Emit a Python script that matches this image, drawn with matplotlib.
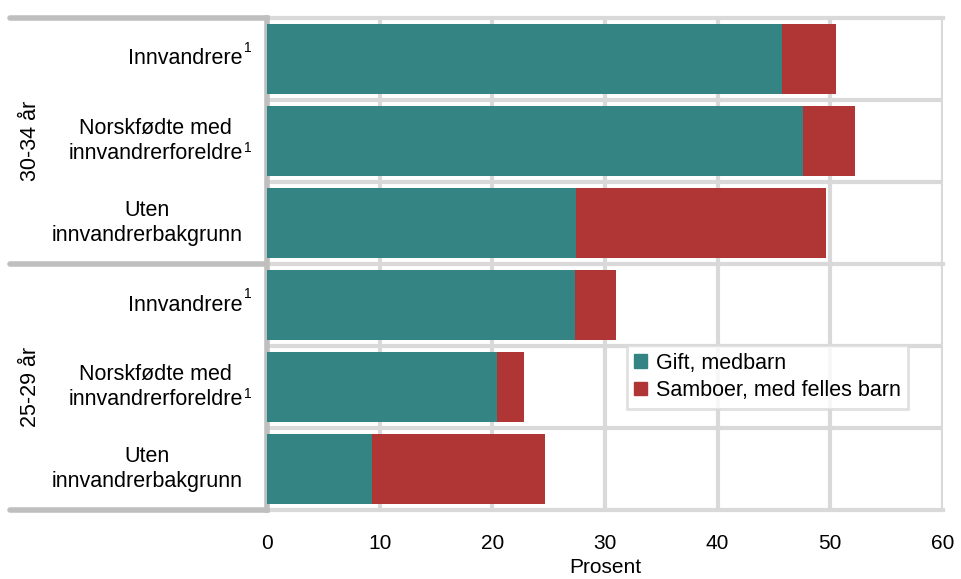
import matplotlib.pyplot as plt
from matplotlib.patches import Rectangle

plt.rcParams['font.family'] = ['Liberation Sans', 'DejaVu Sans']

labels = ['Innvandrere', 'Norskfødte med\ninnvandrerforeldre', 'Uten\ninnvandrerbakgrunn',
          'Innvandrere', 'Norskfødte med\ninnvandrerforeldre', 'Uten\ninnvandrerbakgrunn']
footnote = ['1', '1', '', '1', '1', '']
groups = ['30-34 år', '25-29 år']
gift = [45.7, 47.6, 27.4, 27.3, 20.4, 9.3]
samboer = [4.8, 4.6, 22.2, 3.7, 2.4, 15.4]
series = ['Gift, medbarn', 'Samboer, med felles barn']

teal = '#358484'
red = '#b03535'
grid_c = '#d9d9d9'
dark_c = '#bfbfbf'

fig = plt.figure(figsize=(9.62, 5.79), dpi=100)
ax = fig.add_axes([0.2775, 0.119, 0.7027, 0.85])

y = list(range(len(labels)))
ax.barh(y, gift, height=0.86, color=teal, zorder=3)
ax.barh(y, samboer, left=gift, height=0.86, color=red, zorder=3)

ax.set_xlim(0, 60)
ax.set_ylim(5.5, -0.5)
ax.set_xticks(range(0, 61, 10))
for xv in range(10, 61, 10):
    ax.axvline(xv, color=grid_c, lw=3, zorder=1)
for yv in [0.5, 1.5, 3.5, 4.5]:
    ax.axhline(yv, color=grid_c, lw=3, zorder=1)

# group separators extending into the label area
for yv in [-0.5, 2.5, 5.5]:
    ax.plot([-0.38, 0], [yv, yv], transform=ax.get_yaxis_transform(),
            color=dark_c, lw=4, clip_on=False, solid_capstyle='round', zorder=4)
    ax.plot([0, 1], [yv, yv], transform=ax.get_yaxis_transform(),
            color=grid_c, lw=3, clip_on=False, zorder=1)

for s in ['top', 'right', 'bottom']:
    ax.spines[s].set_visible(False)
ax.spines['left'].set_color(dark_c)
ax.spines['left'].set_linewidth(4)

ax.set_yticks([])
ax.tick_params(axis='x', length=0, labelsize=15, pad=17)
ax.set_xlabel('Prosent', fontsize=15, labelpad=4)

trans = ax.get_yaxis_transform()
for i, lab in enumerate(labels):
    ax.text(-0.036, i, lab, transform=trans, ha='right', va='center',
            multialignment='center', fontsize=15.5, linespacing=1.3)
    if footnote[i]:
        yo = -0.13 if '\n' not in lab else 0.08
        ax.text(-0.034, i + yo, footnote[i], transform=trans, ha='left',
                va='center', fontsize=10)

for k, g in enumerate(groups):
    ax.text(-0.35, 1 + 3 * k, g, transform=trans, rotation=90,
            ha='center', va='center', fontsize=15.5)

handles = [Rectangle((0, 0), 1, 1, color=teal), Rectangle((0, 0), 1, 1, color=red)]
leg = ax.legend(handles, series, loc='upper left', bbox_to_anchor=(0.532, 0.335),
                fontsize=15.5, frameon=True, fancybox=False, handlelength=0.6,
                handleheight=0.6, handletextpad=0.4, borderpad=0.35,
                labelspacing=0.3, borderaxespad=0)
leg.get_frame().set_edgecolor(grid_c)
leg.get_frame().set_linewidth(2)
leg.set_zorder(5)

fig.savefig('out.png', dpi=100)
